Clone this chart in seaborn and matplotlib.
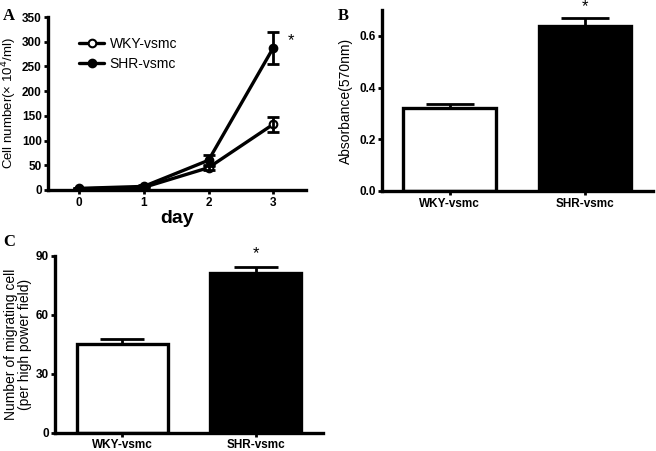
import numpy as np
import pandas as pd
import matplotlib
matplotlib.use("Agg")
import matplotlib.pyplot as plt
import seaborn as sns

# data
days = [0, 1, 2, 3]
wky_cells = [2, 5, 45, 133]
wky_cells_err = [1, 2, 4, 15]
shr_cells = [3, 7, 60, 288]
shr_cells_err = [1, 2, 10, 32]

groups = ["WKY-vsmc", "SHR-vsmc"]
absorbance = [0.32, 0.64]
absorbance_err = [0.018, 0.03]
migrating = [45, 81]
migrating_err = [2.5, 3.5]

sns.set_style("ticks")
plt.rcParams["font.family"] = ["Liberation Sans", "DejaVu Sans"]
plt.rcParams["axes.linewidth"] = 2.4
plt.rcParams["axes.edgecolor"] = "black"
plt.rcParams["xtick.color"] = "black"
plt.rcParams["ytick.color"] = "black"
plt.rcParams["text.color"] = "black"
plt.rcParams["axes.labelcolor"] = "black"
plt.rcParams["xtick.major.width"] = 2
plt.rcParams["ytick.major.width"] = 2
plt.rcParams["xtick.major.size"] = 3
plt.rcParams["ytick.major.size"] = 3
plt.rcParams["xtick.major.pad"] = 2
plt.rcParams["ytick.major.pad"] = 1.5

fig = plt.figure(figsize=(6.56, 4.51), dpi=100)
axA = fig.add_axes([0.073, 0.579, 0.393, 0.383])
axB = fig.add_axes([0.582, 0.5765, 0.413, 0.401])
axC = fig.add_axes([0.084, 0.04, 0.408, 0.393])

# %% panel A
df = pd.DataFrame({
    "day": days * 2,
    "cells": wky_cells + shr_cells,
    "group": ["WKY-vsmc"] * 4 + ["SHR-vsmc"] * 4,
})
for name, vals, errs, face in [("WKY-vsmc", wky_cells, wky_cells_err, "white"),
                               ("SHR-vsmc", shr_cells, shr_cells_err, "black")]:
    sub = df[df.group == name]
    sns.lineplot(data=sub, x="day", y="cells", ax=axA, color="black", lw=2.4,
                 marker="o", markersize=5.5, markerfacecolor=face,
                 markeredgecolor="black", markeredgewidth=1.5, label=name)
    axA.errorbar(days, vals, yerr=errs, fmt="none", ecolor="black",
                 elinewidth=2, capsize=4, capthick=2)
axA.set_xlim(-0.48, 3.5)
axA.set_ylim(0, 350)
axA.set_xticks(days)
axA.set_yticks(range(0, 351, 50))
axA.set_xlabel("day", fontsize=14, fontweight="bold", labelpad=1)
axA.set_ylabel("Cell number(× 10$^4$/ml)", fontsize=9.5)
axA.yaxis.set_label_coords(-0.112, 0.5)
axA.text(3.22, 303, "*", fontsize=12, ha="left", va="center")
axA.legend(loc="upper left", bbox_to_anchor=(0.1, 0.92), frameon=False,
           fontsize=10, handlelength=1.8, handletextpad=0.4, labelspacing=0.45,
           borderaxespad=0)

# %% panel B
sns.barplot(x=groups, y=absorbance, ax=axB, palette=["white", "black"],
            hue=groups, legend=False, width=0.68, edgecolor="black",
            linewidth=2.4)
axB.errorbar([0, 1], absorbance, yerr=[[0, 0], absorbance_err], fmt="none",
             ecolor="black", elinewidth=2, capsize=17, capthick=2)
axB.set_xlim(-0.5, 1.5)
axB.set_ylim(0, 0.7)
axB.set_yticks([0.0, 0.2, 0.4, 0.6])
axB.set_ylabel("Absorbance(570nm)", fontsize=10)
axB.yaxis.set_label_coords(-0.107, 0.5)
axB.text(1, 0.715, "*", fontsize=12, ha="center", va="center", clip_on=False)

# %% panel C
sns.barplot(x=groups, y=migrating, ax=axC, palette=["white", "black"],
            hue=groups, legend=False, width=0.68, edgecolor="black",
            linewidth=2.4)
axC.errorbar([0, 1], migrating, yerr=[[0, 0], migrating_err], fmt="none",
             ecolor="black", elinewidth=2, capsize=16, capthick=2)
axC.set_xlim(-0.5, 1.5)
axC.set_ylim(0, 90)
axC.set_yticks([0, 30, 60, 90])
axC.set_ylabel("Number of migrating cell\n(per high power field)", fontsize=10,
               linespacing=1.0)
axC.yaxis.set_label_coords(-0.088, 0.5)
axC.tick_params(axis="x", pad=1)
axC.text(1, 91, "*", fontsize=12, ha="center", va="center", clip_on=False)

for ax in (axA, axB, axC):
    sns.despine(ax=ax)
    for lab in ax.get_xticklabels() + ax.get_yticklabels():
        lab.set_fontweight("bold")
        lab.set_fontsize(8.5)

for x, y, t in [(0.005, 0.955, "A"), (0.515, 0.955, "B"), (0.005, 0.455, "C")]:
    fig.text(x, y, t, fontsize=12, fontweight="bold",
             family=["Liberation Serif", "DejaVu Serif"])

fig.savefig("out.png", dpi=100)
